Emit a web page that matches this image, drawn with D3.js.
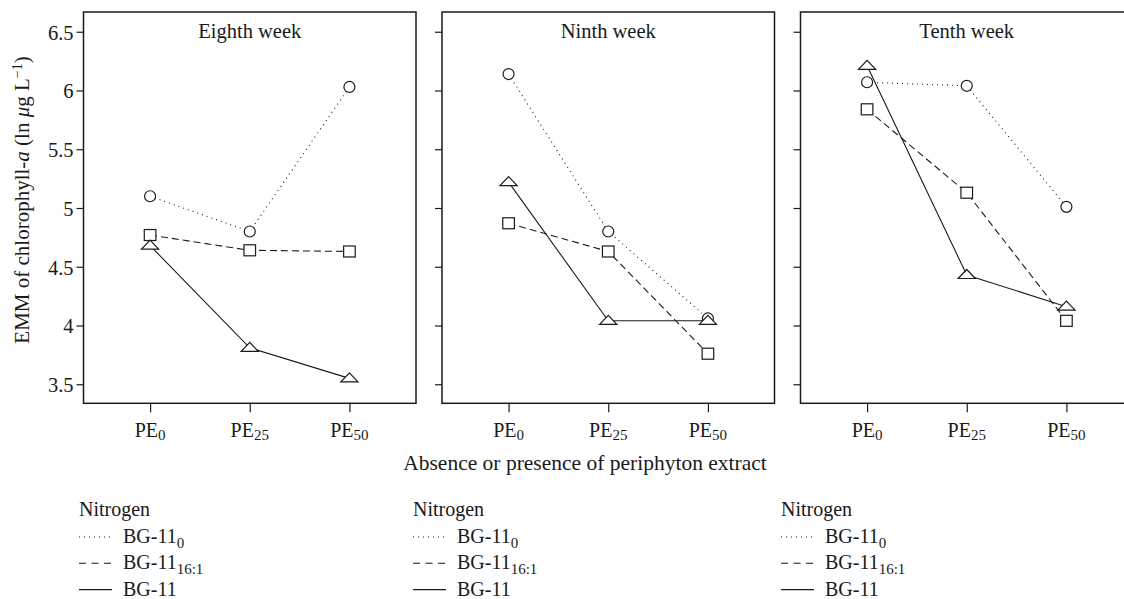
<!DOCTYPE html>
<html lang="en">
    <head>
        <meta charset="utf-8">
        <title>EMM of chlorophyll-a by week</title>
        <script type="text/javascript" src="https://cdn.jsdelivr.net/npm/d3@7/dist/d3.min.js"></script>
        <style type="text/css">
           body { margin: 0; background: #fff; }
           text {
               font-family: "Liberation Serif", "Times New Roman", serif;
               font-size: 20px;
               fill: #1a1a1a;
           }
        </style>
    </head>
    <body>
        <script type="text/javascript">

              var w = 1124;
              var h = 599;

              // data
              var weeks = [ "Eighth week", "Ninth week", "Tenth week" ];
              var extract = [ "0", "25", "50" ];          // PE subscripts
              var yTicks = [ 3.5, 4, 4.5, 5, 5.5, 6, 6.5 ];

              // one row per week, one value per extract level
              var bg11_0   = [ [5.10, 4.80, 6.03], [6.14, 4.80, 4.06], [6.07, 6.04, 5.01] ];
              var bg11_161 = [ [4.77, 4.64, 4.63], [4.87, 4.63, 3.76], [5.84, 5.13, 4.04] ];
              var bg11     = [ [4.68, 3.81, 3.55], [5.22, 4.04, 4.04], [6.21, 4.43, 4.16] ];

              var series = [
                  { name: "BG-11", sub: "0",    values: bg11_0,   dash: "1,4", legendDash: "1,4",   shape: "circle" },
                  { name: "BG-11", sub: "16:1", values: bg11_161, dash: "7,4", legendDash: "7,5.5", shape: "square" },
                  { name: "BG-11", sub: "",     values: bg11,     dash: null,  legendDash: null,    shape: "triangle" }
              ];

              var panelLeft = 83.5, panelW = 332.5, panelStep = 358.5;
              var plotTop = 12, plotBottom = 403.3;

              var y = d3.scaleLinear()
                        .domain([3.338, 6.668])
                        .range([plotBottom, plotTop]);

              var x = d3.scalePoint()
                        .domain(extract)
                        .range([0, panelW])
                        .padding(0.668);

              var svg = d3.select("body")
                          .append("svg")
                          .attr("width", w)
                          .attr("height", h);

              var line = d3.line()
                           .x(function(d, i) { return x(extract[i]); })
                           .y(function(d) { return y(d); });

              function symbol(g, shape) {
                  if (shape === "circle") {
                      g.append("circle").attr("r", 5.5);
                  } else if (shape === "square") {
                      g.append("rect").attr("x", -5.8).attr("y", -5.5).attr("width", 11.6).attr("height", 11);
                  } else {
                      g.append("path").attr("d", "M0,-5.5L8.6,3.5L-8.6,3.5Z");
                  }
              }

              weeks.forEach(function(week, wi) {
                  var p = svg.append("g")
                             .attr("transform", "translate(" + (panelLeft + wi * panelStep) + ",0)");

                  // y axis ticks (labels only on first panel)
                  var yAxis = d3.axisLeft(y)
                                .tickValues(yTicks)
                                .tickSize(7)
                                .tickPadding(3)
                                .tickFormat(wi === 0 ? d3.format("") : "");
                  var ya = p.append("g").call(yAxis);
                  ya.select(".domain").remove();
                  ya.selectAll("line").attr("stroke", "#1a1a1a").attr("stroke-width", 1.2);
                  ya.selectAll("text").style("font-size", "20.5px").attr("fill", "#1a1a1a")
                    .style("font-family", "Liberation Serif, serif").attr("dy", "0.36em");

                  // x axis ticks
                  var xa = p.append("g")
                            .attr("transform", "translate(0," + plotBottom + ")")
                            .call(d3.axisBottom(x).tickSize(9).tickFormat(""));
                  xa.select(".domain").remove();
                  xa.selectAll("line").attr("stroke", "#1a1a1a").attr("stroke-width", 1.2);

                  extract.forEach(function(e) {
                      var t = p.append("text")
                               .attr("x", x(e))
                               .attr("y", 437)
                               .attr("text-anchor", "middle");
                      t.append("tspan").text("PE");
                      t.append("tspan").attr("dy", 3).style("font-size", "15px").text(e);
                  });

                  // frame
                  p.append("rect")
                   .attr("x", 0).attr("y", plotTop)
                   .attr("width", panelW).attr("height", plotBottom - plotTop)
                   .attr("fill", "none")
                   .attr("stroke", "#1a1a1a")
                   .attr("stroke-width", 1.5);

                  p.append("text")
                   .attr("x", panelW / 2)
                   .attr("y", 38)
                   .attr("text-anchor", "middle")
                   .style("font-size", "20.5px")
                   .text(week);

                  series.forEach(function(s) {
                      p.append("path")
                       .datum(s.values[wi])
                       .attr("d", line)
                       .attr("fill", "none")
                       .attr("stroke", "#1a1a1a")
                       .attr("stroke-width", 1.1)
                       .attr("stroke-dasharray", s.dash);
                  });

                  series.forEach(function(s) {
                      s.values[wi].forEach(function(v, i) {
                          var g = p.append("g")
                                   .attr("transform", "translate(" + x(extract[i]) + "," + y(v) + ")")
                                   .attr("fill", "#fff")
                                   .attr("stroke", "#1a1a1a")
                                   .attr("stroke-width", 1.2);
                          symbol(g, s.shape);
                      });
                  });

                  // legend under each panel
                  var lx = [79, 413, 781][wi];
                  var lg = svg.append("g").attr("transform", "translate(" + lx + ",0)");
                  lg.append("text").attr("x", 0).attr("y", 516).text("Nitrogen");
                  series.forEach(function(s, si) {
                      var ly = 537 + si * 26.3;
                      lg.append("line")
                        .attr("x1", 0).attr("x2", 33)
                        .attr("y1", ly).attr("y2", ly)
                        .attr("stroke", "#1a1a1a")
                        .attr("stroke-width", 1.1)
                        .attr("stroke-dasharray", s.legendDash);
                      var t = lg.append("text").attr("x", 44).attr("y", ly + 6);
                      t.append("tspan").text(s.name);
                      if (s.sub) {
                          t.append("tspan").attr("dy", 5).style("font-size", "15px").text(s.sub);
                      }
                  });
              });

              // axis titles
              svg.append("text")
                 .attr("x", 585)
                 .attr("y", 470)
                 .attr("text-anchor", "middle")
                 .style("font-size", "21.5px")
                 .text("Absence or presence of periphyton extract");

              var yl = svg.append("text")
                          .attr("transform", "translate(29,200) rotate(-90)")
                          .attr("text-anchor", "middle")
                          .style("font-size", "21px");
              yl.append("tspan").text("EMM of chlorophyll-");
              yl.append("tspan").style("font-style", "italic").text("a");
              yl.append("tspan").text(" (ln ");
              yl.append("tspan").style("font-style", "italic").text("\u03bc");
              yl.append("tspan").text("g L");
              yl.append("tspan").attr("dy", -7).style("font-size", "14px").text("\u22121");
              yl.append("tspan").attr("dy", 7).text(")");

        </script>
    </body>
</html>
